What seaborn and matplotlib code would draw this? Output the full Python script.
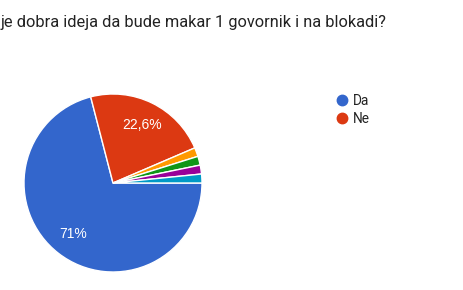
import matplotlib
matplotlib.use("Agg")
import matplotlib.pyplot as plt
from matplotlib.lines import Line2D
import seaborn as sns

categories = ["Da", "Ne", "Ostalo 1", "Ostalo 2", "Ostalo 3", "Ostalo 4"]
counts = [44, 14, 1, 1, 1, 1]
colors = ["#3366cc", "#dc3912", "#ff9900", "#109618", "#990099", "#0099c6"]
legend_shown = ["Da", "Ne"]
title = "je dobra ideja da bude makar 1 govornik i na blokadi?"

sns.set_theme(style="white")
plt.rcParams["font.family"] = ["Roboto", "DejaVu Sans"]

fig = plt.figure(figsize=(4.64, 2.90), dpi=100)
fig.patch.set_facecolor("white")
ax = fig.add_axes([24 / 464, 18 / 290, 178 / 464, 178 / 290])


def fmt(p):
    if p < 5:
        return ""
    r = round(p, 1)
    s = ("%g" % r).replace(".", ",")
    return s + "%"


wedges, texts, autotexts = ax.pie(
    counts,
    colors=colors,
    startangle=0,
    counterclock=False,
    autopct=fmt,
    pctdistance=0.73,
    wedgeprops=dict(edgecolor="white", linewidth=1),
    textprops=dict(color="white", fontsize=10, family=["Liberation Sans", "DejaVu Sans"]),
)
ax.set_xlim(-1, 1)
ax.set_ylim(-1, 1)
ax.set_aspect("equal")
ax.axis("off")

fig.text(1 / 464, 1 - 22 / 290, title, ha="left", va="center",
         fontsize=11.75, color="#222222")

handles = [Line2D([0], [0], marker="o", linestyle="", markersize=7.5,
                  markerfacecolor=colors[categories.index(c)],
                  markeredgecolor=colors[categories.index(c)])
           for c in legend_shown]
fig.legend(handles, legend_shown, loc="upper left",
           bbox_to_anchor=(322 / 464, 1 - 82 / 290), frameon=False,
           fontsize=9.8, handletextpad=0.2, labelspacing=0.25,
           handlelength=1.2, labelcolor="#222222")

fig.savefig("out.png", dpi=100, facecolor="white")
